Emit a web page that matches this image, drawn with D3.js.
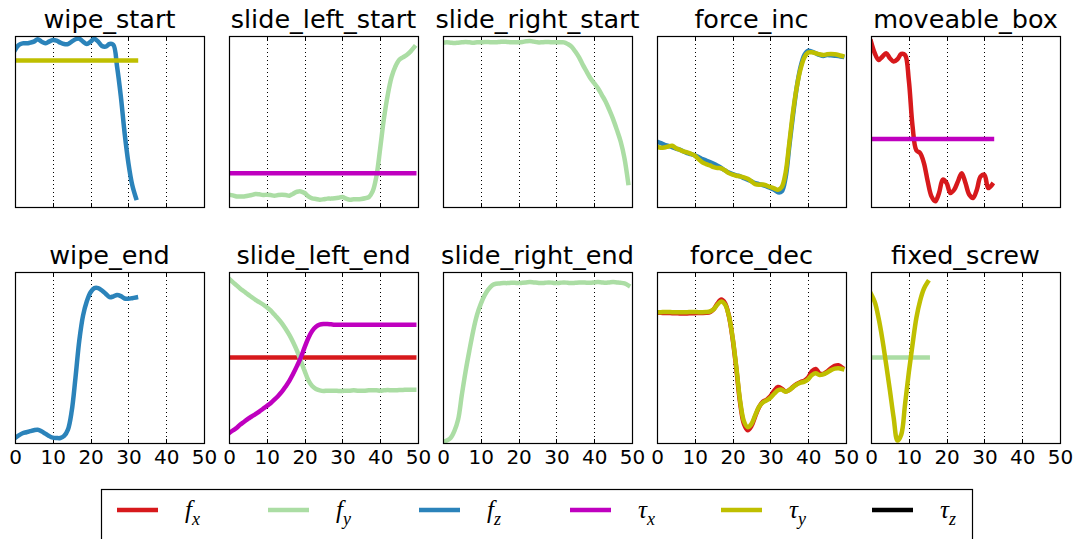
<!DOCTYPE html>
<html>
<head>
<meta charset="utf-8">
<script src="https://cdn.jsdelivr.net/npm/d3@7"></script>
<style>
  html, body { margin: 0; padding: 0; background: #fff; }
  svg { display: block; }
</style>
</head>
<body>
<svg id="chart" width="1083" height="539"></svg>
<script>
// ---- channels (legend order) ----
const channelKeys   = ["fx", "fy", "fz", "tx", "ty", "tz"];
const channelColors = ["#d7191c", "#abdda4", "#2b83ba", "#bf00bf", "#bfbf00", "#000000"];
const channelBase   = ["f", "f", "f", "\u03c4", "\u03c4", "\u03c4"];
const channelSub    = ["x", "y", "z", "x", "y", "z"];

const xTicks = [0, 10, 20, 30, 40, 50];

const panelTitles = [
  "wipe_start", "slide_left_start", "slide_right_start", "force_inc", "moveable_box",
  "wipe_end", "slide_left_end", "slide_right_end", "force_dec", "fixed_screw"
];

// ---- normalised signals, one sample per time step ----
const wipeStartFz = [0.918,0.947,0.957,0.957,0.961,0.967,0.981,0.967,0.957,0.967,0.977,0.973,0.961,0.953,0.953,0.967,0.981,0.984,0.967,0.953,0.967,0.984,0.967,0.942,0.938,0.953,0.949,0.821,0.646,0.432,0.257,0.130,0.053];
const wipeStartTy = [0.856,0.856,0.856,0.856,0.856,0.856,0.856,0.856,0.856,0.856,0.856,0.856,0.856,0.856,0.856,0.856,0.856,0.856,0.856,0.856,0.856,0.856,0.856,0.856,0.856,0.856,0.856,0.856,0.856,0.856,0.856,0.856,0.856];

const slideLeftStartFy = [0.072,0.068,0.062,0.062,0.062,0.066,0.070,0.076,0.074,0.070,0.072,0.070,0.066,0.070,0.072,0.070,0.066,0.078,0.089,0.091,0.082,0.062,0.051,0.047,0.043,0.045,0.049,0.049,0.051,0.054,0.058,0.049,0.043,0.045,0.045,0.047,0.051,0.058,0.091,0.179,0.344,0.519,0.656,0.759,0.821,0.860,0.875,0.889,0.909,0.935];
const slideLeftStartTx = [0.198,0.198,0.198,0.198,0.198,0.198,0.198,0.198,0.198,0.198,0.198,0.198,0.198,0.198,0.198,0.198,0.198,0.198,0.198,0.198,0.198,0.198,0.198,0.198,0.198,0.198,0.198,0.198,0.198,0.198,0.198,0.198,0.198,0.198,0.198,0.198,0.198,0.198,0.198,0.198,0.198,0.198,0.198,0.198,0.198,0.198,0.198,0.198,0.198,0.198];

const slideRightStartFy = [0.961,0.963,0.961,0.959,0.961,0.963,0.965,0.963,0.961,0.963,0.963,0.965,0.965,0.963,0.963,0.965,0.967,0.965,0.963,0.963,0.963,0.965,0.969,0.971,0.967,0.963,0.963,0.965,0.965,0.963,0.963,0.963,0.963,0.953,0.938,0.909,0.875,0.831,0.792,0.753,0.724,0.695,0.656,0.617,0.568,0.514,0.451,0.383,0.286,0.140];

const forceIncFz = [0.383,0.374,0.364,0.358,0.350,0.342,0.335,0.325,0.315,0.309,0.302,0.292,0.280,0.272,0.263,0.253,0.241,0.228,0.214,0.202,0.193,0.185,0.179,0.169,0.160,0.150,0.140,0.134,0.128,0.121,0.111,0.101,0.086,0.091,0.169,0.354,0.539,0.704,0.821,0.889,0.914,0.909,0.899,0.889,0.883,0.889,0.887,0.885,0.883,0.879];
const forceIncTy = [0.354,0.346,0.348,0.354,0.358,0.344,0.335,0.325,0.319,0.311,0.300,0.280,0.261,0.251,0.243,0.233,0.228,0.226,0.214,0.198,0.189,0.183,0.179,0.173,0.165,0.150,0.134,0.130,0.132,0.125,0.117,0.109,0.101,0.117,0.198,0.374,0.558,0.704,0.809,0.875,0.903,0.905,0.899,0.893,0.889,0.893,0.895,0.893,0.889,0.883];

const moveableBoxFx = [0.967,0.899,0.860,0.879,0.899,0.870,0.851,0.864,0.895,0.889,0.743,0.471,0.331,0.315,0.257,0.150,0.062,0.033,0.082,0.160,0.140,0.082,0.101,0.150,0.198,0.140,0.072,0.053,0.101,0.179,0.189,0.111,0.130];
const moveableBoxTx = [0.397,0.397,0.397,0.397,0.397,0.397,0.397,0.397,0.397,0.397,0.397,0.397,0.397,0.397,0.397,0.397,0.397,0.397,0.397,0.397,0.397,0.397,0.397,0.397,0.397,0.397,0.397,0.397,0.397,0.397,0.397,0.397,0.397];

const wipeEndFz = [0.029,0.045,0.057,0.063,0.069,0.075,0.078,0.069,0.055,0.041,0.031,0.029,0.029,0.041,0.078,0.186,0.382,0.598,0.745,0.829,0.882,0.906,0.906,0.892,0.873,0.853,0.857,0.865,0.859,0.845,0.843,0.847,0.851];

const slideLeftEndFx = [0.5,0.5,0.5,0.5,0.5,0.5,0.5,0.5,0.5,0.5,0.5,0.5,0.5,0.5,0.5,0.5,0.5,0.5,0.5,0.5,0.5,0.5,0.5,0.5,0.5,0.5,0.5,0.5,0.5,0.5,0.5,0.5,0.5,0.5,0.5,0.5,0.5,0.5,0.5,0.5,0.5,0.5,0.5,0.5,0.5,0.5,0.5,0.5,0.5,0.5];
const slideLeftEndFy = [0.961,0.941,0.922,0.902,0.886,0.869,0.853,0.837,0.824,0.810,0.794,0.775,0.751,0.727,0.700,0.667,0.631,0.588,0.539,0.480,0.422,0.367,0.333,0.316,0.308,0.304,0.306,0.306,0.306,0.304,0.304,0.306,0.306,0.308,0.306,0.306,0.306,0.308,0.308,0.308,0.306,0.308,0.310,0.308,0.308,0.310,0.310,0.312,0.312,0.312];
const slideLeftEndTx = [0.057,0.073,0.088,0.108,0.124,0.141,0.155,0.169,0.184,0.200,0.216,0.233,0.253,0.275,0.300,0.331,0.365,0.406,0.451,0.500,0.559,0.614,0.655,0.680,0.692,0.696,0.696,0.694,0.692,0.692,0.692,0.692,0.692,0.692,0.692,0.692,0.692,0.692,0.692,0.692,0.692,0.692,0.692,0.692,0.692,0.692,0.692,0.692,0.692,0.692];

const slideRightEndFy = [0.006,0.014,0.029,0.069,0.137,0.284,0.422,0.543,0.657,0.749,0.814,0.863,0.898,0.922,0.931,0.933,0.935,0.935,0.937,0.937,0.935,0.937,0.939,0.941,0.939,0.937,0.935,0.937,0.939,0.937,0.935,0.937,0.939,0.937,0.935,0.937,0.939,0.939,0.937,0.937,0.939,0.941,0.939,0.937,0.939,0.941,0.939,0.937,0.933,0.922];

const forceDecFx = [0.761,0.761,0.760,0.760,0.759,0.759,0.758,0.758,0.758,0.759,0.759,0.760,0.760,0.761,0.765,0.782,0.816,0.839,0.818,0.745,0.612,0.431,0.233,0.112,0.075,0.100,0.157,0.210,0.241,0.253,0.273,0.306,0.327,0.318,0.302,0.310,0.329,0.345,0.357,0.365,0.384,0.420,0.433,0.406,0.404,0.418,0.437,0.451,0.455,0.441];
const forceDecTy = [0.765,0.765,0.766,0.766,0.765,0.765,0.765,0.765,0.765,0.766,0.766,0.765,0.765,0.766,0.769,0.782,0.810,0.827,0.810,0.745,0.618,0.441,0.245,0.127,0.092,0.112,0.163,0.212,0.237,0.249,0.265,0.288,0.308,0.312,0.300,0.310,0.327,0.343,0.353,0.359,0.373,0.398,0.408,0.398,0.402,0.412,0.426,0.435,0.437,0.433];

const fixedScrewFy = [0.5,0.5,0.5,0.5,0.5,0.5,0.5,0.5,0.5,0.5,0.5,0.5,0.5,0.5,0.5,0.5];
const fixedScrewTy = [0.873,0.824,0.731,0.608,0.461,0.308,0.147,0.014,0.049,0.225,0.412,0.578,0.731,0.833,0.902,0.941];

// series per panel, keyed by channel
const panelSeries = [
  { fz: wipeStartFz, ty: wipeStartTy },
  { fy: slideLeftStartFy, tx: slideLeftStartTx },
  { fy: slideRightStartFy },
  { fz: forceIncFz, ty: forceIncTy },
  { fx: moveableBoxFx, tx: moveableBoxTx },
  { fz: wipeEndFz },
  { fx: slideLeftEndFx, fy: slideLeftEndFy, tx: slideLeftEndTx },
  { fy: slideRightEndFy },
  { fx: forceDecFx, ty: forceDecTy },
  { fy: fixedScrewFy, ty: fixedScrewTy }
];

// ---- layout ----
const svg = d3.select("#chart");
const cols = 5;
const plotW = 189;
const colLeft = [15, 229, 443, 657, 871];
const rowTop = [36, 272];
const plotH = 171;

const x = d3.scaleLinear().domain([0, 50]).range([0, plotW]);
const y = d3.scaleLinear().domain([0, 1]).range([plotH, 0]);

const line = d3.line()
  .x((d, i) => x(i))
  .y(d => y(d))
  .curve(d3.curveCatmullRom.alpha(0.5));

panelTitles.forEach((title, p) => {
  const col = p % cols, row = Math.floor(p / cols);
  const g = svg.append("g")
    .attr("transform", `translate(${colLeft[col]},${rowTop[row]})`);

  const clipId = "clip" + p;
  g.append("clipPath").attr("id", clipId)
    .append("rect").attr("width", plotW).attr("height", plotH);

  // dotted vertical grid
  g.append("g").selectAll("line")
    .data(xTicks.slice(1, -1))
    .join("line")
    .attr("x1", d => Math.round(x(d)) + 0.5).attr("x2", d => Math.round(x(d)) + 0.5)
    .attr("y1", 0).attr("y2", plotH)
    .attr("stroke", "#000").attr("stroke-width", 1)
    .attr("stroke-dasharray", "1,3");

  // inward ticks top and bottom
  const tickG = g.append("g");
  xTicks.slice(1, -1).forEach(t => {
    const xp = Math.round(x(t)) + 0.5;
    tickG.append("line").attr("x1", xp).attr("x2", xp).attr("y1", 0).attr("y2", 4)
      .attr("stroke", "#000");
    tickG.append("line").attr("x1", xp).attr("x2", xp).attr("y1", plotH - 4).attr("y2", plotH)
      .attr("stroke", "#000");
  });

  // signals
  const lines = g.append("g").attr("clip-path", `url(#${clipId})`);
  channelKeys.forEach((k, ci) => {
    const vals = panelSeries[p][k];
    if (!vals) return;
    lines.append("path")
      .datum(vals)
      .attr("d", line)
      .attr("fill", "none")
      .attr("stroke", channelColors[ci])
      .attr("stroke-width", 4.5)
      .attr("stroke-linejoin", "round")
      .attr("stroke-linecap", "square");
  });

  // frame
  g.append("rect")
    .attr("x", 0.5).attr("y", 0.5)
    .attr("width", plotW).attr("height", plotH)
    .attr("fill", "none").attr("stroke", "#000").attr("stroke-width", 1.2);

  // title
  g.append("text")
    .attr("x", plotW / 2).attr("y", -8)
    .attr("text-anchor", "middle")
    .attr("font-family", "DejaVu Sans")
    .attr("font-size", 25.5)
    .attr("fill", "#000")
    .text(title);

  // x axis labels on the bottom row
  if (row === 1) {
    const axis = d3.axisBottom(x).tickValues(xTicks).tickSize(0).tickPadding(7).tickFormat(d3.format("d"));
    const ax = g.append("g").attr("transform", `translate(0,${plotH})`).call(axis);
    ax.select(".domain").remove();
    ax.selectAll("text")
      .attr("font-family", "DejaVu Sans")
      .attr("font-size", 20)
      .attr("fill", "#000");
  }
});

// ---- legend ----
const legend = svg.append("g");
legend.append("rect")
  .attr("x", 101.5).attr("y", 489.5)
  .attr("width", 871).attr("height", 70)
  .attr("fill", "#fff").attr("stroke", "#000").attr("stroke-width", 1.2);

const legendStart = 117, legendStep = 151;
channelKeys.forEach((k, i) => {
  const lx = legendStart + i * legendStep;
  legend.append("line")
    .attr("x1", lx).attr("x2", lx + 41)
    .attr("y1", 510).attr("y2", 510)
    .attr("stroke", channelColors[i]).attr("stroke-width", 4.5);
  const t = legend.append("text")
    .attr("x", lx + 68).attr("y", 518)
    .attr("font-family", "Liberation Serif")
    .attr("font-style", "italic")
    .attr("font-size", 25)
    .attr("fill", "#000");
  t.append("tspan").text(channelBase[i]);
  t.append("tspan").attr("dy", 7).attr("font-size", 18).text(channelSub[i]);
});
</script>
</body>
</html>
